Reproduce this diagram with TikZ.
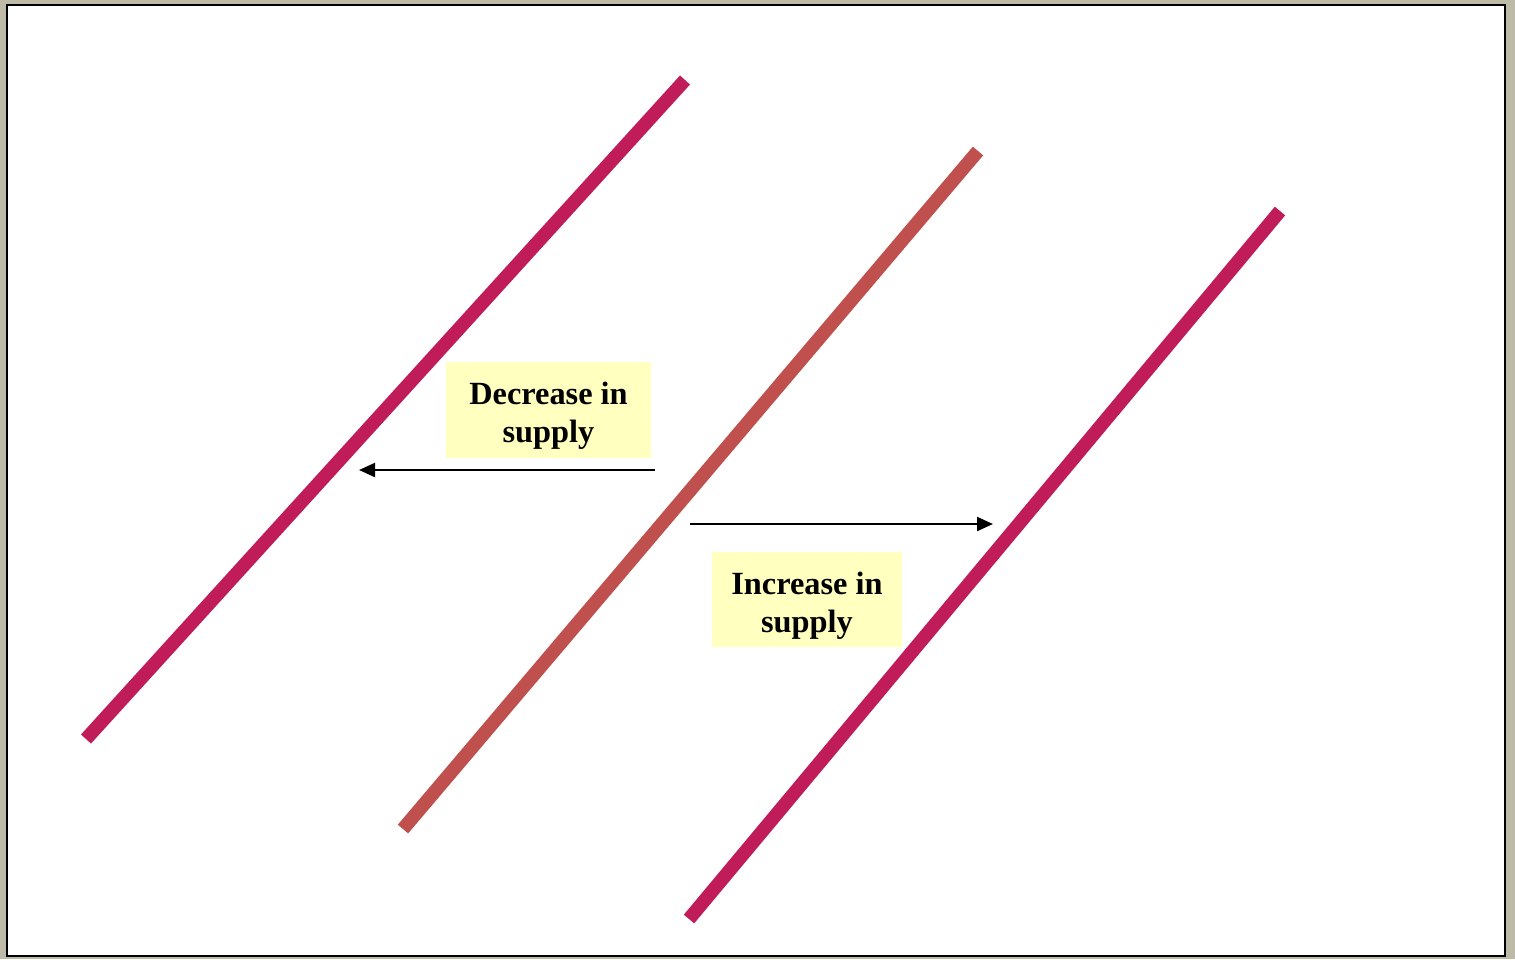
\documentclass[tikz,border=0pt]{standalone}
\usepackage{fontspec}
\setmainfont{Liberation Serif}
\usetikzlibrary{arrows.meta,positioning}

\definecolor{supplyred}{RGB}{192,28,90}
\definecolor{supplyorig}{RGB}{192,80,77}
\definecolor{notefill}{RGB}{255,255,192}
\definecolor{winfill}{RGB}{190,186,168}

\begin{document}
\begin{tikzpicture}[x=0.01cm, y=-0.01cm,
    every node/.style={font=\bfseries\fontsize{9.2}{10.8}\selectfont},
    sl/.style={line width=0.135cm, line cap=butt},
    e/.style={-{Stealth[length=1.6mm, width=1.4mm, inset=0pt]}, line width=0.6pt},
    note/.style={rectangle, fill=notefill, align=center, inner sep=0pt},
  ]
  \fill[winfill] (0,0) rectangle (1515,959);
  \draw[line width=0.6pt, fill=white] (7,5) rectangle (1505,956);
  \useasboundingbox (0,0) rectangle (1515,959);
  % supply curves
  \coordinate (s1a) at (86,739);
  \coordinate (s1b) at (685,80);
  \coordinate (s0a) at (403,829);
  \coordinate (s0b) at (978,151);
  \coordinate (s2a) at (689,919);
  \coordinate (s2b) at (1280,211);
  \draw[sl, supplyred] (s1a) -- (s1b);
  \draw[sl, supplyorig] (s0a) -- (s0b);
  \draw[sl, supplyred] (s2a) -- (s2b);
  % labels
  \node[note, minimum width=2.05cm, minimum height=0.96cm] (dec) at (548.5,410) {\rule{0pt}{3.4mm}Decrease in\\supply};
  \node[note, minimum width=1.90cm, minimum height=0.95cm] (inc) at (807,599.5) {\rule{0pt}{3.4mm}Increase in\\supply};
  % shifts
  \coordinate (l0) at (655,470);
  \coordinate (l1) at (359,470);
  \coordinate (r0) at (690,524);
  \coordinate (r1) at (993,524);
  \draw[e] (l0) -- (l1);
  \draw[e] (r0) -- (r1);
\end{tikzpicture}
\end{document}
